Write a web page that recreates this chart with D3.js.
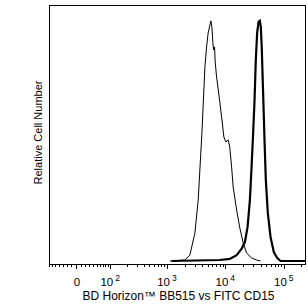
<!DOCTYPE html>
<html>
<head>
<meta charset="utf-8">
<script src="https://cdn.jsdelivr.net/npm/d3@7"></script>
<style>
  body { margin: 0; background: #fff; }
  svg { display: block; font-family: "Liberation Sans", Arial, sans-serif; }
</style>
</head>
<body>
<div id="chart"></div>
<script>
// thin histogram (control)
const thinX = [1130, 2030, 2470, 3010, 3430, 3970, 4470, 4770, 5080, 5650, 5880, 6120, 6290, 6540, 6700, 7080,
  7840, 8620, 9440, 10200, 11200, 11900, 12800, 13600, 15600, 17700, 20200, 23100, 28100, 34200, 40000];
const thinY = [0, 0.4, 2.3, 10.9, 23.8, 50.0, 75.8, 83.6, 89.1, 93.8, 91.4, 85.2, 82.4, 83.6, 77.7, 71.9,
  64.1, 56.3, 48.4, 46.5, 47.3, 44.5, 36.7, 28.9, 19.9, 12.9, 7.0, 3.1, 1.2, 0.4, 0];

// thick histogram (CD15 stained)
const thickX = [1200, 8060, 11900, 15600, 18900, 21600, 24000, 26300, 28100, 29900, 31600, 33200, 35000,
  37000, 38900, 40500, 42100, 44300, 46800, 49300, 53300, 59300, 67500, 76900, 87900, 240000];
const thickY = [0, 0.4, 0.8, 2.3, 4.7, 7.4, 13.3, 23.8, 36.7, 50.0, 62.9, 78.5, 89.1,
  93.4, 93.8, 91.4, 82.4, 65.6, 47.3, 31.6, 18.8, 9.4, 3.5, 1.2, 0, 0];

const majorTicks = [0, 100, 1000, 10000, 100000];
const majorExp = ["", "2", "3", "4", "5"];
const minorMult = [2, 3, 4, 5, 6, 7, 8, 9];

const xTitle = "BD Horizon\u2122 BB515 vs FITC CD15";
const yTitle = "Relative Cell Number";

const W = 308, H = 306;
const mLeft = 49, mRight = 306, mTop = 5, mBottom = 264;

// logicle-like display (asinh)
const tf = v => Math.asinh(v / 55.6);
const xs = d3.scaleLinear().domain([tf(-71), tf(240000)]).range([mLeft, mRight]);
const x = v => xs(tf(v));
const y = d3.scaleLinear().domain([0, 100]).range([261, mTop]);

const svg = d3.select("#chart").append("svg").attr("width", W).attr("height", H);

svg.append("defs").append("clipPath").attr("id", "clip")
  .append("rect").attr("x", mLeft).attr("y", mTop).attr("width", mRight - mLeft).attr("height", mBottom - mTop);

const line = d3.line().x(d => x(d[0])).y(d => y(d[1]));

const plot = svg.append("g").attr("clip-path", "url(#clip)");
plot.append("path")
  .datum(thinX.map((v, i) => [v, thinY[i]]))
  .attr("d", line).attr("fill", "none").attr("stroke", "#000").attr("stroke-width", 1);
plot.append("path")
  .datum(thickX.map((v, i) => [v, thickY[i]]))
  .attr("d", line).attr("fill", "none").attr("stroke", "#000").attr("stroke-width", 2.2);

// frame
svg.append("rect")
  .attr("x", mLeft + 0.5).attr("y", mTop + 0.5)
  .attr("width", mRight - mLeft - 1).attr("height", mBottom - mTop - 0.5)
  .attr("fill", "none").attr("stroke", "#000").attr("shape-rendering", "crispEdges");

// minor ticks
let minor = [-10, -20, -30, -40, -50, -60, -70, 10, 20, 30, 40, 50, 60, 70, 80, 90];
[100, 1000, 10000, 100000].forEach(d => minorMult.forEach(m => minor.push(m * d)));
minor = minor.filter(v => x(v) >= mLeft && x(v) <= mRight);

const ticks = svg.append("g").attr("stroke", "#000").attr("shape-rendering", "crispEdges");
ticks.selectAll(".mn").data(minor).join("line")
  .attr("x1", d => Math.round(x(d)) + 0.5).attr("x2", d => Math.round(x(d)) + 0.5)
  .attr("y1", mBottom).attr("y2", mBottom + 3);
ticks.selectAll(".mj").data(majorTicks).join("line")
  .attr("x1", d => Math.round(x(d)) + 0.5).attr("x2", d => Math.round(x(d)) + 0.5)
  .attr("y1", mBottom).attr("y2", mBottom + 5);

// tick labels: "10" plus a separate superscript
const lab = svg.append("g").attr("fill", "#000");
majorTicks.forEach((v, i) => {
  const cx = x(v);
  if (majorExp[i] === "") {
    lab.append("text").attr("x", cx + 1).attr("y", 286)
      .attr("text-anchor", "middle").attr("font-size", 11.5).text("0");
  } else {
    lab.append("text").attr("x", cx + 3).attr("y", 286)
      .attr("text-anchor", "end").attr("font-size", 11.5).text("10");
    lab.append("text").attr("x", cx + 5).attr("y", 280.5)
      .attr("text-anchor", "start").attr("font-size", 8.5).text(majorExp[i]);
  }
});

svg.append("text")
  .attr("x", (mLeft + mRight) / 2 + 1).attr("y", 300)
  .attr("text-anchor", "middle").attr("font-size", 12)
  .text(xTitle);

svg.append("text")
  .attr("transform", `translate(41.5,${(mTop + mBottom) / 2 - 2}) rotate(-90)`)
  .attr("text-anchor", "middle").attr("font-size", 11)
  .text(yTitle);
</script>
</body>
</html>
